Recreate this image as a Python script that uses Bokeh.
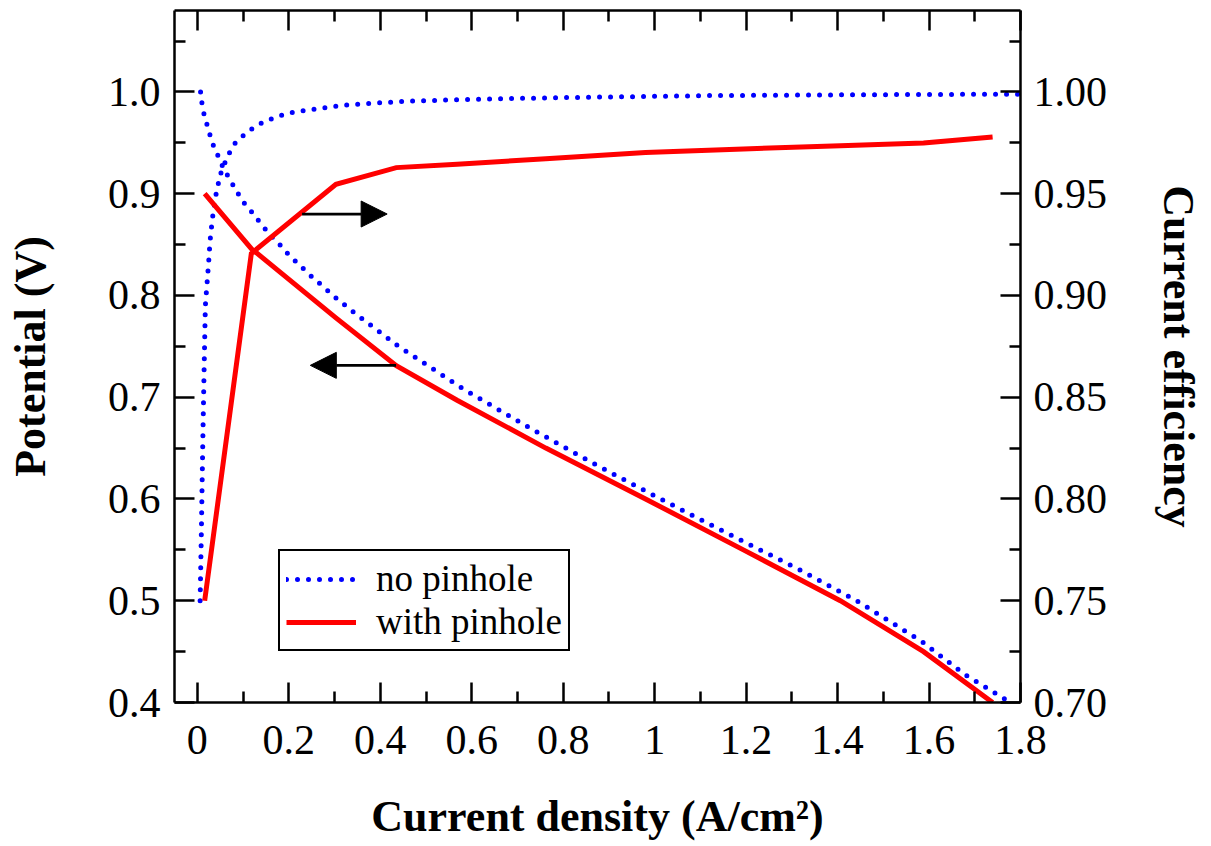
from bokeh.plotting import figure
from bokeh.models import (Range1d, LinearAxis, FixedTicker, NumeralTickFormatter,
                          CustomJSTickFormatter, Arrow, NormalHead, CustomLabelingPolicy)
from bokeh.embed import file_html
from bokeh.resources import INLINE

# ---------------- data ----------------
# no pinhole: polarization curve (left axis)
np_pol_x = [0.007, 0.010, 0.0146, 0.021, 0.028, 0.036, 0.047, 0.057, 0.071, 0.085, 0.100,
            0.119, 0.138, 0.158, 0.180, 0.2015, 0.2256, 0.25, 0.2745, 0.298, 0.346, 0.393,
            0.44, 0.582, 0.726, 0.8675, 1.0, 1.16, 1.319, 1.441, 1.584, 1.679, 1.774]
np_pol_v = [1.0, 0.989, 0.978, 0.968, 0.957, 0.946, 0.9355, 0.925, 0.914, 0.903, 0.892,
            0.882, 0.871, 0.860, 0.850, 0.839, 0.829, 0.8185, 0.809, 0.7994, 0.782, 0.766,
            0.750, 0.708, 0.670, 0.6346, 0.603, 0.566, 0.530, 0.5002, 0.460, 0.4272, 0.401]
# no pinhole: current efficiency (right axis)
np_eff_x = [0.006, 0.0087, 0.0105, 0.0124, 0.0146, 0.0175, 0.0247, 0.0277, 0.0328, 0.0393,
            0.0445, 0.0495, 0.0575, 0.0684, 0.083, 0.105, 0.1295, 0.153, 0.177, 0.199, 0.223,
            0.271, 0.319, 0.391, 0.46, 0.585, 0.795, 1.125, 1.45, 1.795]
np_eff_v = [0.75, 0.783, 0.809, 0.835, 0.862, 0.895, 0.9164, 0.9267, 0.9376, 0.948,
            0.9535, 0.9589, 0.9638, 0.9694, 0.975, 0.9795, 0.9835, 0.986, 0.988, 0.9895, 0.9905,
            0.992, 0.9935, 0.9946, 0.9954, 0.9963, 0.9972, 0.9982, 0.9986, 0.9989]
# with pinhole
wp_x = [0.016, 0.118, 0.303, 0.435, 0.568, 0.762, 0.98, 1.194, 1.406, 1.588, 1.739]
wp_pol_v = [0.90, 0.846, 0.778, 0.731, 0.697, 0.65, 0.60, 0.55, 0.50, 0.45, 0.40]
wp_eff_v = [0.75, 0.9206, 0.9546, 0.9628, 0.9645, 0.9672, 0.9702, 0.972, 0.9736, 0.9749, 0.9779]

x_ticks = [0, 0.2, 0.4, 0.6, 0.8, 1.0, 1.2, 1.4, 1.6, 1.8]
x_minor = [0.1, 0.3, 0.5, 0.7, 0.9, 1.1, 1.3, 1.5, 1.7]
yl_ticks = [0.4, 0.5, 0.6, 0.7, 0.8, 0.9, 1.0]
yl_minor = [0.45, 0.55, 0.65, 0.75, 0.85, 0.95, 1.05]
yr_ticks = [0.70, 0.75, 0.80, 0.85, 0.90, 0.95, 1.00]
yr_minor = [0.725, 0.775, 0.825, 0.875, 0.925, 0.975, 1.025]

# arrow annotations (data coords: x_start, x_end, left-axis y)
arrow_right = (0.229, 0.415, 0.880)
arrow_left = (0.4345, 0.247, 0.7313)

FONT = "Liberation Serif"
BLUE = "#0000ff"
RED = "#ff0000"

W, H = 1211, 846
p = figure(width=W, height=H, output_backend="svg", toolbar_location=None,
           x_range=Range1d(-0.05, 1.8), y_range=Range1d(0.4, 1.08),
           min_border_left=174, min_border_right=W - 1020, min_border_top=10,
           min_border_bottom=H - 702, x_axis_location=None, y_axis_location=None)
p.extra_y_ranges = {"eff": Range1d(0.70, 1.04)}
p.grid.visible = False
p.outline_line_color = None
p.background_fill_color = "white"
p.border_fill_color = "white"


def style(ax, show_labels=True):
    ax.axis_line_width = 2.5
    ax.axis_line_color = "black"
    ax.major_tick_in = 20
    ax.major_tick_out = 0
    ax.minor_tick_in = 11
    ax.minor_tick_out = 0
    ax.major_tick_line_width = 2.5
    ax.minor_tick_line_width = 2.5
    ax.major_tick_line_color = "black"
    ax.minor_tick_line_color = "black"
    ax.major_label_text_font = FONT
    ax.major_label_text_font_size = "42px" if show_labels else "0px"
    ax.major_label_text_color = "black"
    ax.axis_label_text_font = FONT
    ax.axis_label_text_font_size = "44px"
    ax.axis_label_text_font_style = "bold"
    ax.axis_label_text_color = "black"


xb = LinearAxis(ticker=FixedTicker(ticks=x_ticks, minor_ticks=x_minor),
                formatter=CustomJSTickFormatter(code="return (Math.round(tick*10)/10).toString()"),
                axis_label="Current density (A/cm²)")
style(xb)
xb.major_label_standoff = 23
xb.axis_label_standoff = 35
p.add_layout(xb, "below")

xt = LinearAxis(ticker=FixedTicker(ticks=x_ticks, minor_ticks=x_minor))
style(xt, show_labels=False)
xt.major_label_standoff = 0
xt.major_label_policy = CustomLabelingPolicy(code="""
try { for (const i of Array.from(indices)) { indices.unset(i) } } catch (e) {}
return indices
""")
p.add_layout(xt, "above")

yl = LinearAxis(ticker=FixedTicker(ticks=yl_ticks, minor_ticks=yl_minor),
                formatter=NumeralTickFormatter(format="0.0"),
                axis_label="Potential (V)")
style(yl)
yl.major_label_standoff = 14
yl.axis_label_standoff = 50
p.add_layout(yl, "left")

yr = LinearAxis(y_range_name="eff",
                ticker=FixedTicker(ticks=yr_ticks, minor_ticks=yr_minor),
                formatter=NumeralTickFormatter(format="0.00"),
                axis_label="Current efficiency")
style(yr)
yr.major_label_standoff = 13
yr.axis_label_standoff = 44
p.add_layout(yr, "right")

# curves
p.line(np_pol_x, np_pol_v, line_color=BLUE, line_width=5, line_dash="0 11",
       line_cap="round", legend_label="no pinhole")
p.line(np_eff_x, np_eff_v, line_color=BLUE, line_width=5, line_dash="0 11",
       line_cap="round", y_range_name="eff")
p.line(wp_x, wp_pol_v, line_color=RED, line_width=5, line_join="miter",
       legend_label="with pinhole")
p.line(wp_x, wp_eff_v, line_color=RED, line_width=5, line_join="miter",
       y_range_name="eff")

for (xs, xe, yy) in (arrow_right, arrow_left):
    p.add_layout(Arrow(end=NormalHead(size=26, fill_color="black", line_color="black",
                                      line_width=1),
                       x_start=xs, y_start=yy, x_end=xe, y_end=yy,
                       line_width=2.7, line_color="black"))

lg = p.legend[0]
lg.location = (104, 51)
lg.border_line_color = "black"
lg.border_line_alpha = 1
lg.border_line_width = 2.5
lg.background_fill_color = "white"
lg.background_fill_alpha = 1
lg.label_text_font = FONT
lg.label_text_font_size = "37px"
lg.label_text_color = "black"
lg.glyph_width = 70
lg.glyph_height = 36
lg.label_height = 36
lg.label_standoff = 20
lg.padding = 6
lg.spacing = 0
lg.margin = 0

open("out.html", "w").write(file_html(p, INLINE))
